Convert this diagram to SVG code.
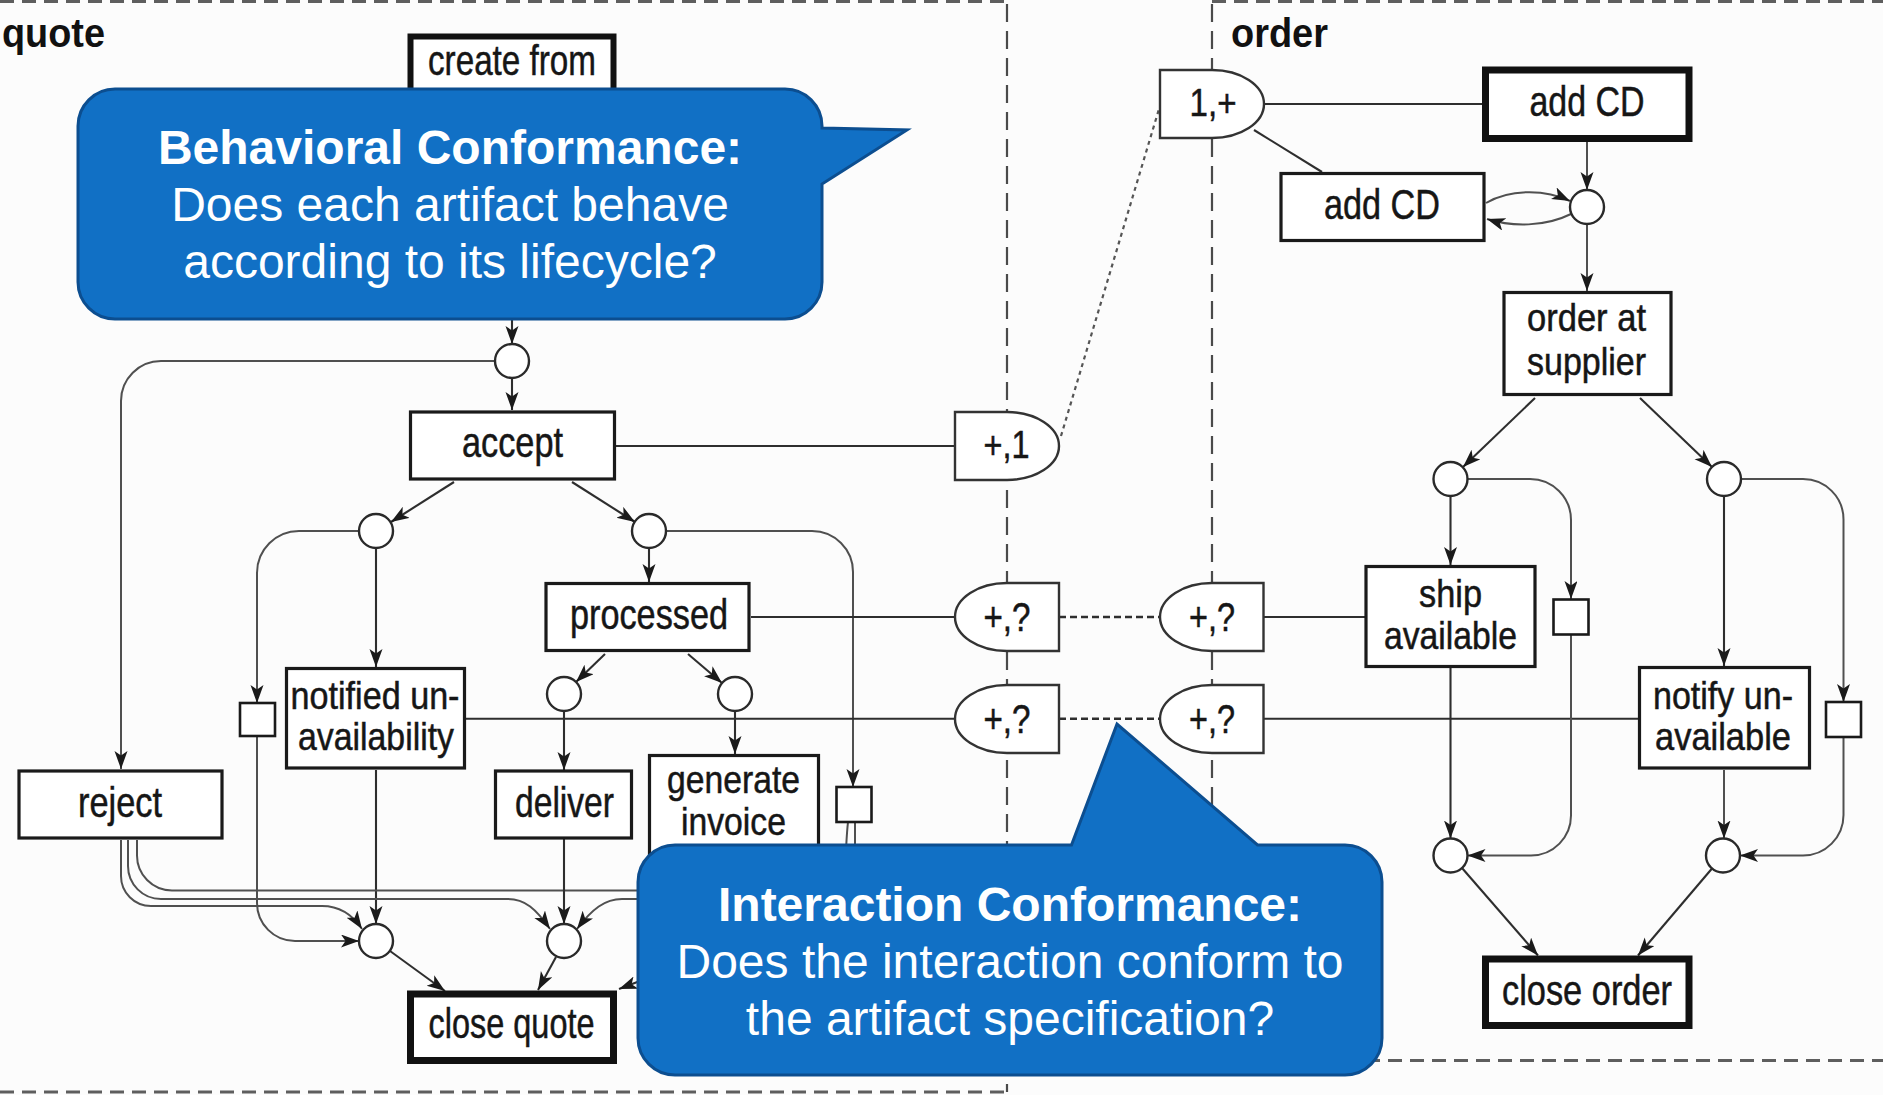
<svg xmlns="http://www.w3.org/2000/svg" width="1883" height="1095" viewBox="0 0 1883 1095">
  <defs>
    <marker id="arrow" markerUnits="userSpaceOnUse" markerWidth="19" markerHeight="14" refX="18" refY="6.5" orient="auto">
      <path d="M0,0 L18,6.5 L0,13 L4.5,6.5 Z" fill="#1a1a1a"/>
    </marker>
    <style>
      .frame-h { stroke:#5e5e5e; stroke-width:3.2; stroke-dasharray:14 8; fill:none; }
      .frame-v { stroke:#4a4a4a; stroke-width:2.2; stroke-dasharray:18 9; fill:none; }
      .region-label { font-family:"Liberation Sans Narrow","Liberation Sans",Arial,sans-serif; font-weight:bold; font-size:41px; fill:#111; }
      .box { fill:#fff; stroke:#1a1a1a; stroke-width:3.2; }
      .box-thick { fill:#fff; stroke:#111; stroke-width:7; }
      .place { fill:#fff; stroke:#2a2a2a; stroke-width:2.4; }
      .port { fill:#fff; stroke:#333; stroke-width:2.4; }
      .label { font-family:"Liberation Sans Narrow","Liberation Sans",Arial,sans-serif; font-size:42px; fill:#161616; stroke:#161616; stroke-width:0.5; text-anchor:middle; }
      .label2 { font-size:38px; }
      .edge { fill:none; stroke:#2e2e2e; stroke-width:2.1; }
      .edge-lt { fill:none; stroke:#505050; stroke-width:2; }
      .arr { marker-end:url(#arrow); }
      .link { fill:none; stroke:#2e2e2e; stroke-width:2.1; }
      .channel { fill:none; stroke:#2e2e2e; stroke-width:2.4; stroke-dasharray:7 4; }
      .dotted { fill:none; stroke:#555; stroke-width:2.2; stroke-dasharray:4 4; }
      .callout { fill:#1170C5; stroke:#0C4E90; stroke-width:3; }
      .callout-head { font-family:"Liberation Sans",Arial,sans-serif; font-weight:bold; font-size:48px; fill:#fff; text-anchor:middle; }
      .callout-body { font-family:"Liberation Sans",Arial,sans-serif; font-size:48px; fill:#fff; text-anchor:middle; }
    </style>
  </defs>

  <rect x="0" y="0" width="1883" height="1095" fill="#fcfcfc"/>

  <!-- proclet frames -->
  <g id="regions">
    <line class="frame-h" x1="0" y1="1.5" x2="1007" y2="1.5"/>
    <line class="frame-h" x1="1212" y1="1.5" x2="1883" y2="1.5"/>
    <line class="frame-h" x1="0" y1="1092" x2="1007" y2="1092"/>
    <line class="frame-h" x1="1212" y1="1060.5" x2="1883" y2="1060.5"/>
    <line class="frame-v" x1="1007" y1="4" x2="1007" y2="1092"/>
    <line class="frame-v" x1="1212" y1="4" x2="1212" y2="1060"/>
    <text class="region-label" x="2" y="47" textLength="103" lengthAdjust="spacingAndGlyphs">quote</text>
    <text class="region-label" x="1231" y="47" textLength="97" lengthAdjust="spacingAndGlyphs">order</text>
  </g>

  <!-- arcs, links and channels -->
  <g id="connectors">
    <!-- quote lifecycle -->
    <line class="edge arr" x1="512" y1="140" x2="512" y2="344"/>
    <line class="edge arr" x1="512" y1="378" x2="512" y2="410"/>
    <path class="edge-lt arr" d="M495,361 H161 A40,40 0 0 0 121,401 V769"/>
    <line class="edge arr" x1="454" y1="482" x2="391" y2="522"/>
    <line class="edge arr" x1="572" y1="482" x2="635" y2="522"/>
    <line class="edge arr" x1="376" y1="548" x2="376" y2="667"/>
    <path class="edge-lt arr" d="M359,531 H299 A42,42 0 0 0 257,573 V703"/>
    <path class="edge-lt arr" d="M257,736 V903 A38,38 0 0 0 295,941 H359"/>
    <line class="edge arr" x1="376" y1="770" x2="376" y2="924"/>
    <line class="edge arr" x1="390" y1="951" x2="445" y2="991"/>
    <path class="edge-lt arr" d="M121,840 V876 A30,30 0 0 0 151,906 H322 C340,906 352,914 362,929"/>
    <path class="edge-lt arr" d="M128,840 V866 A33,33 0 0 0 161,899 H508 C525,899 536,909 550,929"/>
    <path class="edge-lt" d="M137,840 V855 A35,35 0 0 0 172,890.5 H700"/>
    <path class="edge-lt arr" d="M700,899 H622 C605,899 592,909 577,929"/>
    <line class="edge arr" x1="700" y1="958" x2="619" y2="989"/>
    <line class="edge arr" x1="649" y1="548" x2="649" y2="582"/>
    <path class="edge-lt arr" d="M666,531 H812 A41,41 0 0 1 853,572 V787"/>
    <path class="edge-lt" d="M848,822 Q846,840 845,880"/>
    <line class="edge-lt" x1="855" y1="822" x2="855" y2="880"/>
    <line class="edge arr" x1="605" y1="654" x2="576" y2="682"/>
    <line class="edge arr" x1="688" y1="654" x2="722" y2="683"/>
    <line class="edge arr" x1="564" y1="711" x2="564" y2="770"/>
    <line class="edge arr" x1="735" y1="711" x2="735" y2="754"/>
    <line class="edge arr" x1="564" y1="839" x2="564" y2="924"/>
    <line class="edge arr" x1="556" y1="957" x2="538" y2="990"/>

    <!-- links to the ports -->
    <line class="link" x1="616" y1="446" x2="955" y2="446"/>
    <line class="link" x1="751" y1="617" x2="955" y2="617"/>
    <line class="link" x1="466" y1="718.7" x2="955" y2="718.7"/>
    <line class="channel" x1="1059" y1="617" x2="1160" y2="617"/>
    <line class="channel" x1="1059" y1="718.7" x2="1160" y2="718.7"/>
    <line class="link" x1="1263.5" y1="617" x2="1365" y2="617"/>
    <line class="link" x1="1263.5" y1="718.7" x2="1638" y2="718.7"/>
    <line class="dotted" x1="1061" y1="436" x2="1159" y2="109"/>
    <line class="link" x1="1264.5" y1="104" x2="1482" y2="104"/>
    <line class="link" x1="1254" y1="130" x2="1322" y2="172"/>

    <!-- order lifecycle -->
    <line class="edge-lt arr" x1="1587" y1="142" x2="1587" y2="190"/>
    <path class="edge-lt arr" d="M1486,203 C1510,189 1545,189 1570,201"/>
    <path class="edge-lt arr" d="M1571,214 C1545,227 1512,227 1487,219"/>
    <line class="edge-lt arr" x1="1587" y1="224" x2="1587" y2="291"/>
    <line class="edge arr" x1="1535" y1="398" x2="1463" y2="467"/>
    <line class="edge arr" x1="1640" y1="398" x2="1712" y2="467"/>
    <line class="edge arr" x1="1450.5" y1="496" x2="1450.5" y2="565"/>
    <path class="edge-lt arr" d="M1467.5,479 H1530 A41,41 0 0 1 1571,520 V599"/>
    <path class="edge-lt arr" d="M1571,635 V815 A40,40 0 0 1 1531,855.5 H1467.5"/>
    <line class="edge arr" x1="1450.5" y1="668" x2="1450.5" y2="838.5"/>
    <line class="edge arr" x1="1462" y1="868" x2="1538" y2="955.5"/>
    <line class="edge arr" x1="1724" y1="496" x2="1724" y2="666"/>
    <path class="edge-lt arr" d="M1741,479 H1803 A40.5,40.5 0 0 1 1843.5,519.5 V702"/>
    <path class="edge-lt arr" d="M1843.5,737 V815 A40.5,40.5 0 0 1 1803,855.5 H1740"/>
    <line class="edge-lt arr" x1="1724" y1="770" x2="1724" y2="838.5"/>
    <line class="edge arr" x1="1712" y1="868.5" x2="1638" y2="955.5"/>
  </g>

  <!-- quote nodes -->
  <g id="n-create-from">
    <rect class="box-thick" x="410.5" y="36.5" width="203" height="100" style="stroke-width:6"/>
    <text class="label" x="512" y="75" textLength="168" lengthAdjust="spacingAndGlyphs">create from</text>
  </g>
  <g id="p-quote-start"><circle class="place" cx="512" cy="361" r="17"/></g>
  <g id="n-accept">
    <rect class="box" x="410.5" y="412" width="204" height="67"/>
    <text class="label" x="512.5" y="457" textLength="101" lengthAdjust="spacingAndGlyphs">accept</text>
  </g>
  <g id="n-reject">
    <rect class="box" x="19" y="771" width="203" height="67"/>
    <text class="label" x="120" y="817" textLength="84" lengthAdjust="spacingAndGlyphs">reject</text>
  </g>
  <g id="p-quote-l1"><circle class="place" cx="376" cy="531" r="17"/></g>
  <g id="p-quote-r1"><circle class="place" cx="649" cy="531" r="17"/></g>
  <g id="s-quote-l"><rect class="box" x="240" y="703" width="35" height="33" style="stroke-width:2.6"/></g>
  <g id="n-notified">
    <rect class="box" x="286.5" y="668.5" width="178" height="99.5"/>
    <text class="label label2" x="375" y="709" textLength="169" lengthAdjust="spacingAndGlyphs">notified un-</text>
    <text class="label label2" x="376" y="750" textLength="156" lengthAdjust="spacingAndGlyphs">availability</text>
  </g>
  <g id="n-processed">
    <rect class="box" x="546" y="583.5" width="203" height="67"/>
    <text class="label" x="649" y="629" textLength="158" lengthAdjust="spacingAndGlyphs">processed</text>
  </g>
  <g id="p-quote-p1"><circle class="place" cx="564" cy="694" r="17"/></g>
  <g id="p-quote-p2"><circle class="place" cx="735" cy="694" r="17"/></g>
  <g id="n-deliver">
    <rect class="box" x="495.5" y="771" width="136" height="67"/>
    <text class="label" x="564.5" y="817" textLength="99" lengthAdjust="spacingAndGlyphs">deliver</text>
  </g>
  <g id="n-generate-invoice">
    <rect class="box" x="649.5" y="755.5" width="169" height="125"/>
    <text class="label label2" x="733.5" y="793" textLength="133" lengthAdjust="spacingAndGlyphs">generate</text>
    <text class="label label2" x="733.5" y="834.5" textLength="105" lengthAdjust="spacingAndGlyphs">invoice</text>
  </g>
  <g id="s-quote-r"><rect class="box" x="836.5" y="787" width="35" height="35" style="stroke-width:2.6"/></g>
  <g id="p-quote-q1"><circle class="place" cx="376" cy="941" r="17"/></g>
  <g id="p-quote-q2"><circle class="place" cx="564" cy="941" r="17"/></g>
  <g id="n-close-quote">
    <rect class="box-thick" x="410.5" y="994" width="203" height="66.5"/>
    <text class="label" x="511.5" y="1038" textLength="166" lengthAdjust="spacingAndGlyphs">close quote</text>
  </g>

  <!-- ports -->
  <g id="port-accept">
    <path class="port" d="M955,412 H1007 A52,34 0 0 1 1007,480 H955 Z"/>
    <text class="label" x="1006.5" y="458" style="font-size:39px" textLength="46" lengthAdjust="spacingAndGlyphs">+,1</text>
  </g>
  <g id="port-add-cd">
    <path class="port" d="M1160,70 H1212 A52,34 0 0 1 1212,138 H1160 Z"/>
    <text class="label" x="1213" y="116" style="font-size:39px" textLength="47" lengthAdjust="spacingAndGlyphs">1,+</text>
  </g>
  <g id="port-processed">
    <path class="port" d="M1059,583 H1007 A52,34 0 0 0 1007,651 H1059 Z"/>
    <text class="label" x="1007" y="631" style="font-size:40px" textLength="47" lengthAdjust="spacingAndGlyphs">+,?</text>
  </g>
  <g id="port-ship">
    <path class="port" d="M1263.5,583 H1212 A52,34 0 0 0 1212,651 H1263.5 Z"/>
    <text class="label" x="1212" y="631" style="font-size:40px" textLength="46" lengthAdjust="spacingAndGlyphs">+,?</text>
  </g>
  <g id="port-notified">
    <path class="port" d="M1059,685 H1007 A52,34 0 0 0 1007,753 H1059 Z"/>
    <text class="label" x="1007" y="733" style="font-size:40px" textLength="47" lengthAdjust="spacingAndGlyphs">+,?</text>
  </g>
  <g id="port-notify">
    <path class="port" d="M1263.5,685 H1212 A52,34 0 0 0 1212,753 H1263.5 Z"/>
    <text class="label" x="1212" y="733" style="font-size:40px" textLength="46" lengthAdjust="spacingAndGlyphs">+,?</text>
  </g>

  <!-- order nodes -->
  <g id="n-add-cd-init">
    <rect class="box-thick" x="1485.5" y="70" width="203.5" height="68.5"/>
    <text class="label" x="1587" y="116" textLength="115" lengthAdjust="spacingAndGlyphs">add CD</text>
  </g>
  <g id="n-add-cd">
    <rect class="box" x="1281" y="173.5" width="203" height="67"/>
    <text class="label" x="1382" y="219" textLength="116" lengthAdjust="spacingAndGlyphs">add CD</text>
  </g>
  <g id="p-order-a"><circle class="place" cx="1587" cy="207" r="17"/></g>
  <g id="n-order-supplier">
    <rect class="box" x="1504" y="292.5" width="167" height="102"/>
    <text class="label label2" x="1586.5" y="331" textLength="119" lengthAdjust="spacingAndGlyphs">order at</text>
    <text class="label label2" x="1586.5" y="375" textLength="119" lengthAdjust="spacingAndGlyphs">supplier</text>
  </g>
  <g id="p-order-s1"><circle class="place" cx="1450.5" cy="479" r="17"/></g>
  <g id="p-order-n1"><circle class="place" cx="1724" cy="479" r="17"/></g>
  <g id="n-ship">
    <rect class="box" x="1366" y="566.5" width="169" height="100"/>
    <text class="label label2" x="1450.5" y="607" textLength="63" lengthAdjust="spacingAndGlyphs">ship</text>
    <text class="label label2" x="1450.5" y="648.5" textLength="133" lengthAdjust="spacingAndGlyphs">available</text>
  </g>
  <g id="s-order-s"><rect class="box" x="1553.5" y="599.5" width="35" height="35" style="stroke-width:2.6"/></g>
  <g id="n-notify">
    <rect class="box" x="1639.5" y="667.5" width="170" height="100.5"/>
    <text class="label label2" x="1723" y="709" textLength="140" lengthAdjust="spacingAndGlyphs">notify un-</text>
    <text class="label label2" x="1723" y="750" textLength="136" lengthAdjust="spacingAndGlyphs">available</text>
  </g>
  <g id="s-order-n"><rect class="box" x="1826" y="702" width="35" height="35" style="stroke-width:2.6"/></g>
  <g id="p-order-s2"><circle class="place" cx="1450.5" cy="855.5" r="17"/></g>
  <g id="p-order-n2"><circle class="place" cx="1723" cy="855.5" r="17"/></g>
  <g id="n-close-order">
    <rect class="box-thick" x="1485.5" y="959" width="203.5" height="66.5"/>
    <text class="label" x="1587" y="1005" textLength="170" lengthAdjust="spacingAndGlyphs">close order</text>
  </g>

  <!-- annotation bubbles -->
  <g id="callout-behavioral">
    <path class="callout" d="M115,89 H785 A37,37 0 0 1 822,126 V128 L907,130 L822,184 V282 A37,37 0 0 1 785,319 H115 A37,37 0 0 1 78,282 V126 A37,37 0 0 1 115,89 Z"/>
    <text class="callout-head" x="450" y="164">Behavioral Conformance:</text>
    <text class="callout-body" x="450" y="221">Does each artifact behave</text>
    <text class="callout-body" x="450" y="278">according to its lifecycle?</text>
  </g>
  <g id="callout-interaction">
    <path class="callout" d="M675,845 H1071.5 L1117,724 L1257.5,845 H1345 A37,37 0 0 1 1382,882 V1038 A37,37 0 0 1 1345,1075 H675 A37,37 0 0 1 638,1038 V882 A37,37 0 0 1 675,845 Z"/>
    <text class="callout-head" x="1010" y="921">Interaction Conformance:</text>
    <text class="callout-body" x="1010" y="978">Does the interaction conform to</text>
    <text class="callout-body" x="1010" y="1035">the artifact specification?</text>
  </g>
</svg>
